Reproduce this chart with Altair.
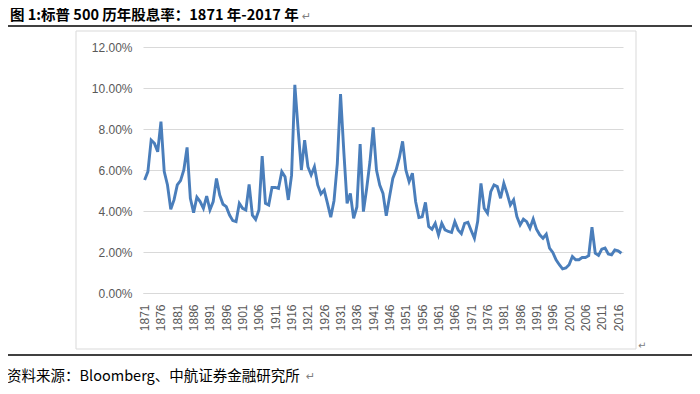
import altair as alt
import pandas as pd

years = list(range(1871, 2018))
yield_pct = [
    5.51, 5.92, 7.46, 7.30, 6.89, 8.36, 5.92, 5.27, 4.08, 4.54,
    5.27, 5.48, 6.00, 7.10, 4.62, 3.92, 4.67, 4.46, 4.13, 4.73,
    4.05, 4.46, 5.59, 4.78, 4.33, 4.21, 3.80, 3.53, 3.48, 4.37,
    4.13, 4.05, 5.30, 3.80, 3.59, 4.05, 6.68, 4.37, 4.29, 5.15,
    5.15, 5.10, 5.92, 5.67, 4.54, 5.75, 10.15, 8.00, 6.00, 7.46,
    6.16, 5.76, 6.16, 5.27, 4.83, 5.02, 4.37, 3.70, 4.50, 6.30,
    9.70, 6.90, 4.37, 4.86, 3.64, 4.20, 7.27, 3.97, 5.10, 6.40,
    8.08, 6.00, 5.27, 4.86, 3.77, 4.70, 5.59, 6.00, 6.60, 7.40,
    6.00, 5.43, 5.84, 4.45, 3.68, 3.72, 4.42, 3.24, 3.11, 3.40,
    2.83, 3.40, 3.08, 3.00, 2.95, 3.48, 3.08, 2.90, 3.40, 3.45,
    3.05, 2.67, 3.50, 5.35, 4.13, 3.89, 4.94, 5.27, 5.19, 4.62,
    5.35, 4.86, 4.29, 4.54, 3.73, 3.32, 3.60, 3.48, 3.16, 3.61,
    3.11, 2.84, 2.67, 2.87, 2.19, 1.98, 1.62, 1.38, 1.18, 1.22,
    1.38, 1.78, 1.62, 1.62, 1.73, 1.73, 1.82, 3.21, 1.94, 1.83,
    2.14, 2.19, 1.90, 1.86, 2.10, 2.06, 1.94,
]
x_tick_years = list(range(1871, 2017, 5))
y_ticks = [0, 0.02, 0.04, 0.06, 0.08, 0.10, 0.12]

title_text = "图 1:标普 500 历年股息率：1871 年-2017 年"
source_text = "资料来源：Bloomberg、中航证券金融研究所"

df = pd.DataFrame({"year": years, "value": [v / 100 for v in yield_pct]})
one = pd.DataFrame({"a": [0]})

line = alt.Chart(df).mark_line(color="#4a7ebb", strokeWidth=2.9).encode(
    x=alt.X(
        "year:Q",
        scale=alt.Scale(domain=[1870.5, 2017.5], nice=False, zero=False),
        axis=alt.Axis(
            values=x_tick_years, format="d", labelAngle=270, grid=False,
            ticks=False, domain=True, domainColor="#d9d9d9", labelFontSize=12,
            labelFont="Liberation Sans", labelColor="#595959", labelPadding=11,
            title=None,
        ),
    ),
    y=alt.Y(
        "value:Q",
        scale=alt.Scale(domain=[0, 0.12], nice=False),
        axis=alt.Axis(
            values=y_ticks, format=".2%", grid=True, gridColor="#d9d9d9",
            ticks=False, domain=False, labelFontSize=12,
            labelFont="Liberation Sans", labelColor="#595959", labelPadding=11,
            title=None,
        ),
    ),
)

frame = alt.Chart(one).mark_rect(fillOpacity=0, stroke="#d9d9d9", strokeWidth=1).encode(
    x=alt.value(-67), x2=alt.value(493), y=alt.value(-16), y2=alt.value(302)
)

top_rule = alt.Chart(one).mark_rule(color="#000000", strokeWidth=1.5).encode(
    x=alt.value(-143), x2=alt.value(557), y=alt.value(-21)
)
bottom_rule = alt.Chart(one).mark_rule(color="#000000", strokeWidth=1.5).encode(
    x=alt.value(-143), x2=alt.value(557), y=alt.value(308)
)

title = alt.Chart(one).mark_text(
    text=title_text, align="left", baseline="middle", fontSize=14.5,
    fontWeight="bold", font="Noto Sans CJK SC", color="#000000",
).encode(x=alt.value(-133), y=alt.value(-31))

title_mark = alt.Chart(one).mark_text(
    text="↵", align="left", baseline="middle", fontSize=11,
    font="DejaVu Sans", color="#808080",
).encode(x=alt.value(159), y=alt.value(-30))

source = alt.Chart(one).mark_text(
    text=source_text, align="left", baseline="middle", fontSize=14.5,
    font="Noto Sans CJK SC", color="#000000",
).encode(x=alt.value(-136), y=alt.value(330))

source_mark = alt.Chart(one).mark_text(
    text="↵", align="left", baseline="middle", fontSize=11,
    font="DejaVu Sans", color="#808080",
).encode(x=alt.value(163), y=alt.value(330))

frame_mark = alt.Chart(one).mark_text(
    text="↵", align="left", baseline="middle", fontSize=10,
    font="DejaVu Sans", color="#808080",
).encode(x=alt.value(495), y=alt.value(299))

chart = alt.layer(
    frame, top_rule, bottom_rule, line, title, title_mark, source, source_mark, frame_mark
).properties(
    width=480,
    height=246,
    padding={"left": 135, "top": 39, "right": 69, "bottom": 93},
    autosize=alt.AutoSizeParams(type="none"),
    background="#ffffff",
).configure_view(strokeWidth=0)

chart.save("out.html", embed_options={"renderer": "svg", "actions": False})
